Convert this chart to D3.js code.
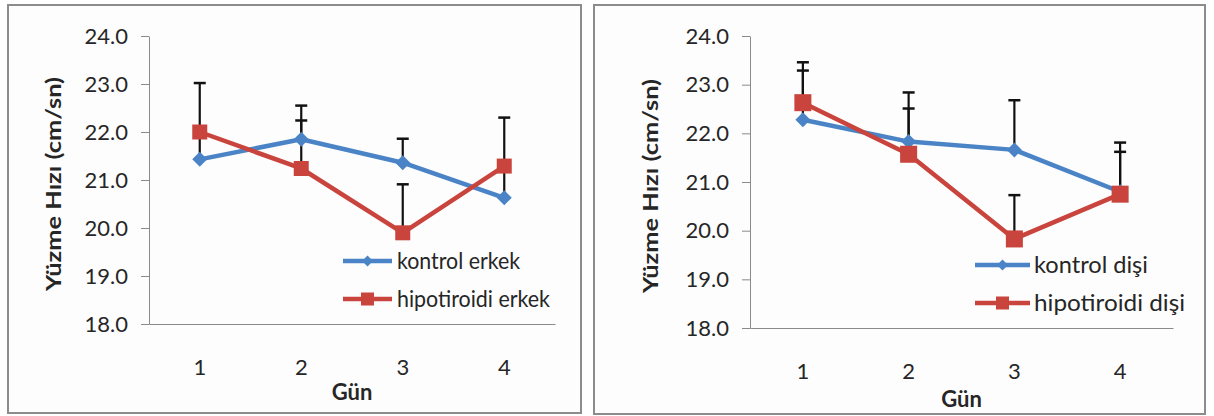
<!DOCTYPE html>
<html>
<head>
<meta charset="utf-8">
<script src="https://cdn.jsdelivr.net/npm/d3@7"></script>
<style>
  html, body { margin: 0; padding: 0; background: #ffffff; }
  svg { display: block; }
  text { font-family: Lato, "Open Sans", sans-serif; fill: #262626; }
  .ytick text, .xtick text { font-size: 22px !important; }
</style>
</head>
<body>
<svg id="chart" width="1214" height="416"></svg>
<script>
// ---------- data ----------
const days = ["1", "2", "3", "4"];
const yTicks = [18, 19, 20, 21, 22, 23, 24];

const maleKontrol     = [21.43, 21.85, 21.36, 20.63];
const maleKontrolSD   = [0.50, 0.70, 0.50, 0.65];
const maleHipo        = [22.00, 21.24, 19.90, 21.29];
const maleHipoSD      = [1.02, 1.00, 1.01, 1.01];

const femaleKontrol   = [22.28, 21.83, 21.66, 20.80];
const femaleKontrolSD = [1.01, 1.01, 1.02, 0.82];
const femaleHipo      = [22.63, 21.57, 19.83, 20.75];
const femaleHipoSD    = [0.83, 0.94, 0.90, 1.06];

const legendMale   = ["kontrol erkek", "hipotiroidi erkek"];
const legendFemale = ["kontrol dişi", "hipotiroidi dişi"];
const yTitle = "Yüzme Hızı (cm/sn)";
const xTitle = "Gün";

// ---------- styles ----------
const BLUE = "#4A84C6";
const RED = "#C9443D";
const AXIS = "#8a8a8a";
const FONT = "Lato, 'Open Sans', sans-serif";

const svg = d3.select("#chart");

const panels = [
  { frame: [8, 5, 581, 413], x0: 149, x1: 555, yTop: 36, yBot: 324,
    titleX: 54, titleY: 184, gunY: 400, sq: 15, dia: 15,
    legend: { x0: 343, x1: 392, y: [261, 299], tx: 397, tw: [123, 153] },
    kontrol: maleKontrol, kontrolSD: maleKontrolSD, hipo: maleHipo, hipoSD: maleHipoSD,
    names: legendMale },
  { frame: [594, 5, 1205, 414], x0: 750, x1: 1173, yTop: 36, yBot: 328,
    titleX: 651, titleY: 186, gunY: 407, sq: 17, dia: 15,
    legend: { x0: 975, x1: 1030, y: [265, 303], tx: 1034, tw: [114, 151] },
    kontrol: femaleKontrol, kontrolSD: femaleKontrolSD, hipo: femaleHipo, hipoSD: femaleHipoSD,
    names: legendFemale }
];

panels.forEach(p => {
  const g = svg.append("g");
  const [fx0, fy0, fx1, fy1] = p.frame;
  g.append("rect")
    .attr("x", fx0).attr("y", fy0)
    .attr("width", fx1 - fx0).attr("height", fy1 - fy0)
    .attr("fill", "#fdfdfd").attr("stroke", "#8c8c8c").attr("stroke-width", 2);

  const x = d3.scaleBand().domain(days).range([p.x0, p.x1]).padding(0);
  const y = d3.scaleLinear().domain([18, 24]).range([p.yBot, p.yTop]);
  const cx = d => x(d) + x.bandwidth() / 2;

  // y axis
  const ya = g.append("g")
    .attr("class", "ytick")
    .attr("transform", `translate(${p.x0},0)`)
    .call(d3.axisLeft(y).tickValues(yTicks).tickFormat(d3.format(".1f"))
      .tickSize(8).tickSizeOuter(0).tickPadding(13));
  ya.attr("font-size", 22).attr("font-family", FONT);
  ya.select(".domain").attr("stroke", AXIS);
  ya.selectAll(".tick line").attr("stroke", AXIS);
  ya.selectAll(".tick text").attr("fill", "#333333")
    .attr("font-size", 22).style("font-size", "22px");

  // x axis
  const xa = g.append("g")
    .attr("class", "xtick")
    .attr("transform", `translate(0,${p.yBot})`)
    .call(d3.axisBottom(x).tickSize(0).tickSizeOuter(0).tickPadding(35));
  xa.attr("font-size", 22).attr("font-family", FONT);
  xa.select(".domain").attr("stroke", AXIS);
  xa.selectAll(".tick text").attr("fill", "#333333")
    .attr("font-size", 22).style("font-size", "22px");

  // titles
  g.append("text")
    .attr("transform", `translate(${p.titleX},${p.titleY}) rotate(-90)`)
    .attr("text-anchor", "middle").attr("dy", "0.35em")
    .style("font-size", "20px").style("font-weight", "bold")
    .attr("textLength", 214).attr("lengthAdjust", "spacingAndGlyphs")
    .text(yTitle);
  g.append("text")
    .attr("x", (p.x0 + p.x1) / 2).attr("y", p.gunY)
    .attr("text-anchor", "middle")
    .style("font-size", "22px").style("font-weight", "bold")
    .text(xTitle);

  const series = [
    { vals: p.kontrol, sd: p.kontrolSD, color: BLUE, shape: "diamond" },
    { vals: p.hipo, sd: p.hipoSD, color: RED, shape: "square" }
  ];

  const line = d3.line().x((v, i) => cx(days[i])).y(v => y(v));

  // lines
  series.forEach(s => {
    g.append("path").datum(s.vals)
      .attr("d", line).attr("fill", "none")
      .attr("stroke", s.color).attr("stroke-width", 4.5)
      .attr("stroke-linejoin", "round");
  });

  // error bars (upper only)
  series.forEach(s => {
    const eg = g.append("g");
    s.vals.forEach((v, i) => {
      const xx = cx(days[i]);
      const top = y(v + s.sd[i]);
      eg.append("line")
        .attr("x1", xx).attr("x2", xx)
        .attr("y1", y(v)).attr("y2", top)
        .attr("stroke", "#111").attr("stroke-width", 2.2);
      eg.append("line")
        .attr("x1", xx - 6).attr("x2", xx + 6)
        .attr("y1", top).attr("y2", top)
        .attr("stroke", "#111").attr("stroke-width", 2.5);
    });
  });

  // markers
  const drawMarker = (sel, shape, color, xx, yy, size) => {
    if (shape === "square") {
      sel.append("rect")
        .attr("x", xx - size / 2).attr("y", yy - size / 2)
        .attr("width", size).attr("height", size)
        .attr("fill", color);
    } else {
      const h = size / 2;
      sel.append("path")
        .attr("d", `M${xx},${yy - h}L${xx + h},${yy}L${xx},${yy + h}L${xx - h},${yy}Z`)
        .attr("fill", color);
    }
  };
  series.forEach(s => {
    s.vals.forEach((v, i) => {
      drawMarker(g, s.shape, s.color, cx(days[i]), y(v), s.shape === "square" ? p.sq : p.dia);
    });
  });

  // legend
  const L = p.legend;
  series.forEach((s, k) => {
    const ly = L.y[k];
    g.append("line")
      .attr("x1", L.x0).attr("x2", L.x1).attr("y1", ly).attr("y2", ly)
      .attr("stroke", s.color).attr("stroke-width", 4.5);
    drawMarker(g, s.shape, s.color, (L.x0 + L.x1) / 2, ly, s.shape === "square" ? 13 : 11);
    g.append("text")
      .attr("x", L.tx).attr("y", ly).attr("dy", "0.35em")
      .style("font-size", "23px")
      .attr("textLength", L.tw[k]).attr("lengthAdjust", "spacingAndGlyphs")
      .text(p.names[k]);
  });
});
</script>
</body>
</html>
